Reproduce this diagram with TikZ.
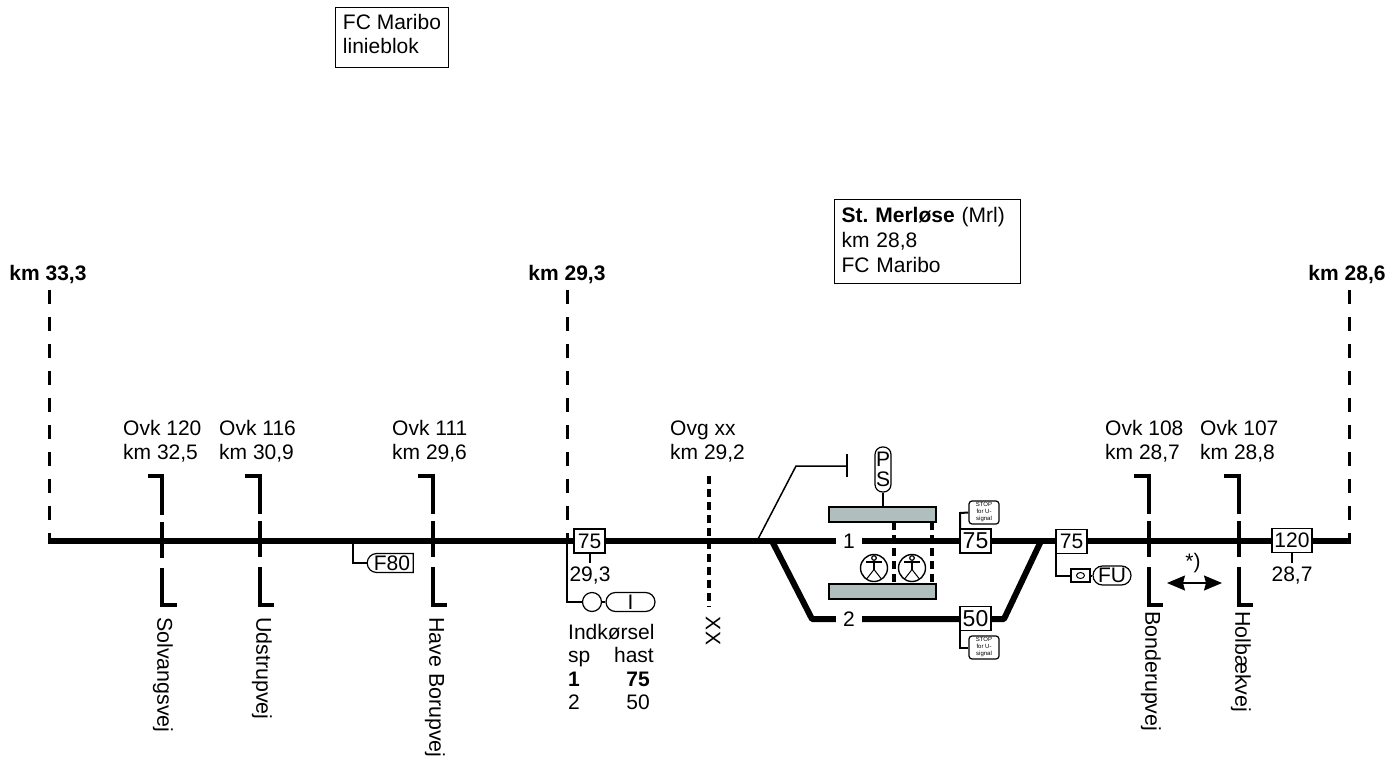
\documentclass[tikz,border=0pt]{standalone}
\usepackage{fontspec}
\setmainfont{Liberation Sans}
\usetikzlibrary{arrows.meta,calc,positioning,shapes.misc}
\definecolor{platgray}{HTML}{B0BEBE}
\tikzset{
  txt/.style={inner sep=0pt,align=left,font=\fontsize{21}{24}\selectfont},
  boldtxt/.style={txt,font=\fontsize{21}{24}\selectfont\bfseries},
  roadtxt/.style={txt,rotate=-90,anchor=west,font=\fontsize{21.4}{24}\selectfont},
  overtxt/.style={txt,anchor=west},
  infobox/.style={txt,draw,line width=1pt,anchor=north west},
  speedbox/.style={txt,draw,fill=white,line width=1.2pt,minimum height=24pt,anchor=center},
  track/.style={line width=6pt},
  kmline/.style={line width=3pt,dash pattern=on 14pt off 13pt},
  crossing/.style={line width=4.5pt,miter limit=10,dash pattern=on 53pt off 7pt on 36pt off 10pt on 52pt},
  stem/.style={line width=2pt},
  platform/.style={draw,line width=1.5pt,fill=platgray,minimum width=107pt,minimum height=15pt,inner sep=0pt},
  walk/.style={line width=3.5pt,dash pattern=on 8pt off 5pt},
  capsule/.style={txt,draw,fill=white,line width=1.2pt,rounded rectangle,minimum height=19pt},
  stopsign/.style={draw,fill=white,line width=1.2pt,rounded corners=3pt,minimum width=30pt,minimum height=23pt,inner sep=0pt,align=center,font=\fontsize{6}{7}\selectfont},
  person/.style={draw,line width=1.4pt,circle,minimum size=27pt,inner sep=0pt}
}
\newcommand{\walker}[1]{
  \draw[line width=1.2pt] ($(#1)+(0,-10)$) circle (2.3);
  \draw[line width=2pt] ($(#1)+(-8,-6)$)--($(#1)+(8,-6)$);
  \draw[line width=1.8pt] ($(#1)+(0,-7.5)$)--($(#1)+(0,2)$);
  \draw[line width=1pt] ($(#1)+(-7,10.5)$)--($(#1)+(0,1.5)$)--($(#1)+(7,10.5)$);
}
\begin{document}
\begin{tikzpicture}[x=1pt,y=-1pt,>=stealth]
  \useasboundingbox (0,0) rectangle (1392,757);
  \fill[white] (0,0) rectangle (1392,757);
  \coordinate (W) at (47.5,541);
  \coordinate (E) at (1350.5,541);
  \coordinate (Sw1) at (772,541);
  \coordinate (Sw2) at (1041,541);
  \coordinate (T2a) at (812,619);
  \coordinate (T2b) at (1004,619);
  % info boxes
  \node[infobox,minimum width=113pt,inner ysep=7pt] (linebox) at (335,7) {FC Maribo\\linieblok\rule[-7pt]{0pt}{7pt}};
  \node[infobox,inner xsep=7pt,inner ysep=8pt,text width=172pt,font=\fontsize{21}{25}\selectfont] (stationbox) at (834,199) {\textbf{St.\ Merløse} (Mrl)\\km 28,8\\FC Maribo\rule[-3pt]{0pt}{3pt}};
  % km posts
  \node[boldtxt] (km333) at (48,274.5) {km 33,3};
  \node[boldtxt] (km293) at (567,274.5) {km 29,3};
  \node[boldtxt] (km286) at (1347,274.5) {km 28,6};
  \draw[kmline] (49,290)--(49,541);
  \draw[kmline] (567,290)--(567,541);
  \draw[kmline] (1349,290)--(1349,541);
  % tracks
  \draw[track] (W)--(E);
  \draw[track,line join=round] (Sw1)--(T2a)--(T2b)--(Sw2);
  \node[txt,fill=white,inner xsep=7pt,inner ysep=3pt] (sp1) at (849,541) {1};
  \node[txt,fill=white,inner xsep=7pt,inner ysep=3pt] (sp2) at (849,619) {2};
  % crossings
  \node[overtxt] (ovk120) at (123,441.5) {Ovk 120\\km 32,5};
  \node[overtxt] (ovk116) at (219,441.5) {Ovk 116\\km 30,9};
  \node[overtxt] (ovk111) at (392,441.5) {Ovk 111\\km 29,6};
  \node[overtxt] (ovgxx) at (670,441.5) {Ovg xx\\km 29,2};
  \node[overtxt] (ovk108) at (1105,441.5) {Ovk 108\\km 28,7};
  \node[overtxt] (ovk107) at (1200,441.5) {Ovk 107\\km 28,8};
  \draw[crossing] (148,476)--(162,476)--(162,605)--(178,605);
  \draw[crossing] (245,476)--(260,476)--(260,605)--(275,605);
  \draw[crossing] (418,476)--(433,476)--(433,605)--(449,605);
  \draw[crossing] (1134,476)--(1149,476)--(1149,605)--(1164,605);
  \draw[crossing] (1224,476)--(1239,476)--(1239,605)--(1255,605);
  \draw[line width=4.5pt,dash pattern=on 8pt off 5pt] (709,476)--(709,607);
  \node[roadtxt] (solvang) at (163,617) {Solvangsvej};
  \node[roadtxt] (udstrup) at (262,617) {Udstrupvej};
  \node[roadtxt] (have) at (435,617) {Have Borupvej};
  \node[roadtxt] (bonde) at (1151,611) {Bonderupvej};
  \node[roadtxt] (holb) at (1241,611) {Holbækvej};
  \node[txt,rotate=-90] (xx) at (713,631) {XX};
  % signals west
  \node[capsule,rounded rectangle east arc=none,minimum width=46pt,inner xsep=0pt] (f80) at (392,563) {F80};
  \draw[stem] (353,541)--(353,563)--(f80.west);
  \node[speedbox,minimum width=31pt] (v75a) at (589.5,541) {75};
  \draw[stem] (v75a.south)--(589.5,563);
  \node[txt] (km293b) at (590,576) {29,3};
  \node[draw,fill=white,line width=1.2pt,circle,minimum size=19pt,inner sep=0pt] (lamp) at (592,602) {};
  \node[capsule,minimum width=49pt,inner xsep=0pt] (ind) at (630.5,602) {I};
  \draw[stem] (567,541)--(567,602)--(lamp.west);
  \draw[stem] (lamp.east)--(ind.west);
  \node[txt,anchor=base west] (indk) at (568,639) {Indkørsel};
  \node[txt,anchor=base west] (sph) at (568,662) {sp};
  \node[txt,anchor=base east] (hast) at (654,662) {hast};
  \node[txt,anchor=base west] (sp1b) at (568,686) {\textbf{1}};
  \node[txt,anchor=base east] (v1) at (650,686) {\textbf{75}};
  \node[txt,anchor=base west] (sp2b) at (568,709) {2};
  \node[txt,anchor=base east] (v2) at (650,709) {50};
  % station
  \draw[line width=1.5pt] (757,541)--(796,466)--(847,466);
  \draw[line width=2pt] (847,454)--(847,477);
  \node[platform] (plat1) at (882.5,514.5) {};
  \node[platform] (plat2) at (882.5,591.5) {};
  \node[txt,draw,fill=white,line width=1.2pt,rounded corners=7.5pt,minimum width=16pt,minimum height=45pt,inner sep=0pt,align=center,font=\fontsize{21}{19.5}\selectfont] (ps) at (883,469.5) {P\\S};
  \draw[stem] (ps.south)--(883,507);
  \draw[walk] (894,522)--(894,584);
  \draw[walk] (932,522)--(932,584);
  \node[person] (ped1) at (874,568) {};
  \node[person] (ped2) at (912,568) {};
  \walker{ped1}
  \walker{ped2}
  \node[speedbox,minimum width=31pt,font=\fontsize{23}{24}\selectfont] (v75b) at (975.5,541) {75};
  \node[speedbox,minimum width=31pt,font=\fontsize{23}{24}\selectfont] (v50) at (975.5,618.5) {50};
  \node[stopsign] (stop1) at (984,512.5) {STOP\\for U-\\signal};
  \node[stopsign] (stop2) at (984,647.5) {STOP\\for U-\\signal};
  \draw[stem] (960,529)--(960,513)--(stop1.west);
  \draw[stem] (960,630)--(960,647.5)--(stop2.west);
  % signals east
  \node[speedbox,minimum width=31pt] (v75c) at (1071.5,541.5) {75};
  \node[draw,fill=white,line width=1.2pt,minimum width=19pt,minimum height=13pt,inner sep=0pt] (fubox) at (1080.5,575.5) {};
  \draw[line width=1pt] (fubox.center) ellipse (4 and 3);
  \node[capsule,minimum width=38pt,inner xsep=0pt] (fu) at (1112,575.5) {FU};
  \draw[stem] (1056,553)--(1056,575.5)--(fubox.west);
  \draw[stem] (fubox.east)--(fu.west);
  \coordinate (ArrW) at (1167,583);
  \coordinate (ArrE) at (1222,583);
  \draw[{Stealth[length=18pt,width=15pt,inset=2pt]}-{Stealth[length=18pt,width=15pt,inset=2pt]},line width=1.2pt] (ArrW)--(ArrE);
  \node[txt] (note) at (1193,563) {*)};
  \node[speedbox,minimum width=40pt] (v120) at (1292,540.5) {120};
  \draw[stem] (v120.south)--(1292,563);
  \node[txt] (km287) at (1292,576) {28,7};
\end{tikzpicture}
\end{document}
